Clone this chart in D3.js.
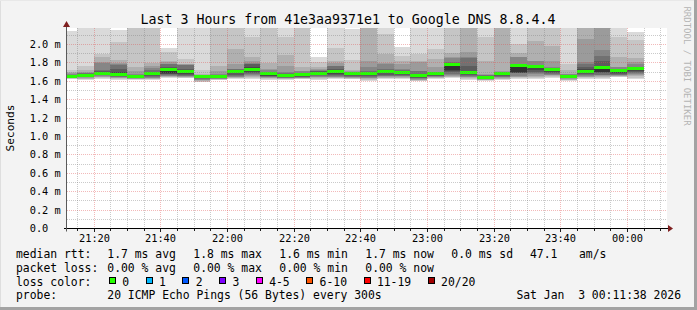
<!DOCTYPE html>
<html>
<head>
<meta charset="utf-8">
<script src="https://cdn.jsdelivr.net/npm/d3@7"></script>
<style>
  body { margin: 0; background: #f3f3f3; }
  svg text { font-family: "DejaVu Sans Mono", monospace; fill: #000; }
</style>
</head>
<body>
<svg id="chart" width="697" height="310"></svg>
<script>
// ---- data ----
const sampleTimes = ['21:15', '21:20', '21:25', '21:30', '21:35', '21:40', '21:45', '21:50', '21:55',
    '22:00', '22:05', '22:10', '22:15', '22:20', '22:25', '22:30', '22:35', '22:40', '22:45', '22:50', '22:55',
    '23:00', '23:05', '23:10', '23:15', '23:20', '23:25', '23:30', '23:35', '23:40', '23:45', '23:50', '23:55',
    '00:00', '00:05'];

// median rtt per 5 min sample (ms)
const medianRtt = [1.652, 1.656, 1.683, 1.667, 1.643, 1.677, 1.726, 1.705, 1.643, 1.643, 1.699, 1.726,
    1.674, 1.654, 1.665, 1.683, 1.703, 1.674, 1.674, 1.701, 1.687, 1.654, 1.676, 1.774, 1.692, 1.638,
    1.674, 1.761, 1.752, 1.719, 1.652, 1.703, 1.746, 1.708, 1.733];

// sorted pings below the median (cp1..cp9), ms
const smokeLow = [
    [1.617, 1.622, 1.627, 1.632, 1.636, 1.640, 1.644, 1.647, 1.650],
    [1.610, 1.618, 1.625, 1.632, 1.638, 1.643, 1.647, 1.650, 1.653],
    [1.620, 1.630, 1.638, 1.645, 1.652, 1.660, 1.666, 1.671, 1.676],
    [1.610, 1.620, 1.628, 1.635, 1.641, 1.646, 1.650, 1.654, 1.660],
    [1.608, 1.615, 1.620, 1.625, 1.629, 1.632, 1.635, 1.637, 1.639],
    [1.610, 1.617, 1.623, 1.628, 1.633, 1.640, 1.650, 1.660, 1.670],
    [1.630, 1.636, 1.642, 1.648, 1.655, 1.662, 1.670, 1.678, 1.685],
    [1.627, 1.633, 1.640, 1.645, 1.650, 1.656, 1.665, 1.675, 1.690],
    [1.583, 1.590, 1.598, 1.606, 1.613, 1.620, 1.626, 1.632, 1.638],
    [1.610, 1.614, 1.618, 1.621, 1.624, 1.627, 1.630, 1.634, 1.638],
    [1.620, 1.626, 1.632, 1.638, 1.645, 1.655, 1.668, 1.680, 1.690],
    [1.620, 1.632, 1.645, 1.655, 1.665, 1.674, 1.683, 1.695, 1.710],
    [1.613, 1.620, 1.626, 1.632, 1.638, 1.644, 1.650, 1.657, 1.665],
    [1.610, 1.615, 1.621, 1.626, 1.630, 1.634, 1.638, 1.643, 1.648],
    [1.616, 1.621, 1.626, 1.630, 1.635, 1.640, 1.645, 1.651, 1.658],
    [1.613, 1.621, 1.630, 1.638, 1.645, 1.652, 1.660, 1.668, 1.676],
    [1.620, 1.626, 1.632, 1.638, 1.645, 1.652, 1.662, 1.675, 1.690],
    [1.616, 1.621, 1.627, 1.633, 1.639, 1.645, 1.652, 1.660, 1.667],
    [1.601, 1.610, 1.619, 1.627, 1.635, 1.642, 1.650, 1.658, 1.666],
    [1.620, 1.627, 1.633, 1.640, 1.648, 1.656, 1.668, 1.680, 1.692],
    [1.620, 1.627, 1.634, 1.641, 1.648, 1.655, 1.662, 1.671, 1.680],
    [1.594, 1.600, 1.606, 1.613, 1.620, 1.627, 1.634, 1.641, 1.648],
    [1.620, 1.626, 1.632, 1.638, 1.644, 1.650, 1.656, 1.663, 1.670],
    [1.627, 1.636, 1.645, 1.655, 1.665, 1.674, 1.700, 1.710, 1.717],
    [1.610, 1.620, 1.630, 1.638, 1.646, 1.654, 1.662, 1.672, 1.683],
    [1.601, 1.606, 1.610, 1.614, 1.618, 1.622, 1.626, 1.630, 1.634],
    [1.610, 1.618, 1.625, 1.632, 1.638, 1.645, 1.652, 1.660, 1.667],
    [1.620, 1.628, 1.636, 1.645, 1.656, 1.680, 1.684, 1.688, 1.692],
    [1.620, 1.630, 1.642, 1.655, 1.670, 1.685, 1.700, 1.715, 1.735],
    [1.632, 1.641, 1.650, 1.658, 1.666, 1.675, 1.686, 1.698, 1.710],
    [1.601, 1.608, 1.614, 1.620, 1.626, 1.632, 1.637, 1.642, 1.647],
    [1.620, 1.628, 1.637, 1.645, 1.652, 1.660, 1.670, 1.682, 1.694],
    [1.620, 1.628, 1.638, 1.648, 1.658, 1.668, 1.680, 1.692, 1.700],
    [1.638, 1.644, 1.650, 1.656, 1.662, 1.668, 1.674, 1.680, 1.695],
    [1.620, 1.634, 1.648, 1.660, 1.670, 1.680, 1.692, 1.705, 1.718]
];

// sorted pings above the median (cp10..cp18), ms
const smokeHigh = [
    [1.656, 1.660, 1.664, 1.668, 1.673, 1.680, 1.695, 1.720, 2.140],
    [1.660, 1.666, 1.673, 1.680, 1.690, 1.700, 1.720, 1.760, 2.300],
    [1.690, 1.700, 1.710, 1.720, 1.790, 1.800, 1.860, 1.890, 2.400],
    [1.685, 1.700, 1.730, 1.775, 1.785, 1.790, 1.830, 2.020, 2.150],
    [1.650, 1.656, 1.662, 1.668, 1.675, 1.710, 1.750, 2.300, 2.450],
    [1.684, 1.692, 1.700, 1.720, 1.740, 1.760, 1.790, 2.350, 2.500],
    [1.735, 1.740, 1.746, 1.780, 1.783, 1.800, 1.819, 1.909, 1.957],
    [1.712, 1.718, 1.725, 1.770, 1.775, 1.780, 1.783, 1.837, 2.300],
    [1.646, 1.649, 1.652, 1.656, 1.660, 1.665, 1.674, 1.717, 2.300],
    [1.650, 1.655, 1.662, 1.668, 1.674, 1.710, 1.764, 2.300, 2.500],
    [1.704, 1.708, 1.710, 1.725, 1.728, 1.783, 1.946, 2.300, 2.500],
    [1.735, 1.746, 1.785, 1.788, 1.790, 1.819, 1.855, 2.080, 2.300],
    [1.679, 1.684, 1.688, 1.692, 1.720, 1.728, 1.790, 2.300, 2.500],
    [1.661, 1.668, 1.676, 1.685, 1.692, 1.764, 1.884, 2.080, 2.300],
    [1.670, 1.674, 1.678, 1.681, 1.705, 1.710, 1.753, 2.300, 2.500],
    [1.690, 1.697, 1.703, 1.710, 1.717, 1.730, 1.753, 1.800, 1.855],
    [1.710, 1.720, 1.728, 1.760, 1.764, 1.790, 1.812, 1.960, 2.300],
    [1.677, 1.680, 1.684, 1.688, 1.692, 1.710, 1.717, 1.826, 2.163],
    [1.680, 1.688, 1.695, 1.710, 1.746, 1.819, 2.300, 2.500, 2.600],
    [1.708, 1.716, 1.720, 1.728, 1.780, 1.790, 1.891, 2.109, 2.300],
    [1.692, 1.698, 1.704, 1.712, 1.728, 1.780, 1.812, 1.873, 1.971],
    [1.660, 1.668, 1.674, 1.705, 1.710, 1.800, 1.819, 1.891, 2.300],
    [1.680, 1.684, 1.687, 1.690, 1.692, 1.746, 1.837, 1.946, 2.300],
    [1.780, 1.785, 1.790, 1.800, 1.850, 1.855, 1.898, 2.300, 2.500],
    [1.700, 1.710, 1.764, 1.850, 1.855, 1.909, 2.300, 2.500, 2.600],
    [1.642, 1.647, 1.652, 1.658, 1.665, 1.674, 1.819, 2.072, 2.300],
    [1.678, 1.682, 1.685, 1.688, 1.692, 1.710, 2.300, 2.500, 2.600],
    [1.767, 1.772, 1.778, 1.783, 1.860, 1.862, 1.898, 2.000, 2.300],
    [1.757, 1.760, 1.762, 1.764, 1.810, 1.819, 2.036, 2.300, 2.500],
    [1.724, 1.728, 1.734, 1.740, 1.746, 1.819, 1.982, 2.300, 2.500],
    [1.656, 1.659, 1.662, 1.666, 1.670, 1.674, 1.717, 1.783, 2.300],
    [1.712, 1.728, 1.746, 1.785, 1.800, 2.054, 2.300, 2.500, 2.600],
    [1.755, 1.765, 1.810, 1.873, 1.935, 2.400, 2.600, 2.700, 2.800],
    [1.712, 1.715, 1.718, 1.722, 1.750, 1.753, 1.855, 2.072, 2.300],
    [1.740, 1.744, 1.748, 1.753, 1.783, 1.800, 1.848, 2.045, 2.127]
];

const yTickValues = [0.0, 0.2, 0.4, 0.6, 0.8, 1.0, 1.2, 1.4, 1.6, 1.8, 2.0];
const yTickLabels = ['0.0', '0.2 m', '0.4 m', '0.6 m', '0.8 m', '1.0 m', '1.2 m', '1.4 m', '1.6 m', '1.8 m', '2.0 m'];
const xTickLabels = ['21:20', '21:40', '22:00', '22:20', '22:40', '23:00', '23:20', '23:40', '00:00'];

const rttStats = ['1.7 ms avg', '1.8 ms max', '1.6 ms min', '1.7 ms now', '0.0 ms sd'];
const lossStats = ['0.00 % avg', '0.00 % max', '0.00 % min', '0.00 % now'];
const lossLegend = [
    { label: '0', color: '#26ff00' },
    { label: '1', color: '#00b8ff' },
    { label: '2', color: '#0059ff' },
    { label: '3', color: '#7e00ff' },
    { label: '4-5', color: '#ff00ff' },
    { label: '6-10', color: '#ff5500' },
    { label: '11-19', color: '#ff0000' },
    { label: '20/20', color: '#a10000' }
];
const titleText = 'Last 3 Hours from 41e3aa9371e1 to Google DNS 8.8.4.4';
const probeText = '20 ICMP Echo Pings (56 Bytes) every 300s';
const dateText = 'Sat Jan  3 00:11:38 2026';

// ---- layout ----
const plot = { left: 67, top: 28, width: 600, height: 200 };
const legendFont = 11.4;
const charW = legendFont * 0.602;
const minorGrid = 'rgba(128,128,128,0.42)';
const majorGrid = 'rgba(222,80,80,0.4)';

const parseTime = t => {
    const [h, m] = t.split(':').map(Number);
    return h < 12 ? new Date(2026, 0, 3, h, m) : new Date(2026, 0, 2, h, m);
};

const svg = d3.select('#chart');

// frame
svg.append('rect').attr('width', 697).attr('height', 310).attr('fill', '#f3f3f3');
svg.append('rect').attr('x', 694).attr('y', 0).attr('width', 3).attr('height', 310).attr('fill', '#a3a3a3');
svg.append('rect').attr('x', 0).attr('y', 307).attr('width', 697).attr('height', 3).attr('fill', '#a3a3a3');
svg.append('rect').attr('x', 0).attr('y', 0).attr('width', 1).attr('height', 307).attr('fill', '#dedede');
svg.append('rect').attr('x', 0).attr('y', 0).attr('width', 694).attr('height', 1).attr('fill', '#e8e8e8');

const xScale = d3.scaleTime()
    .domain([new Date(2026, 0, 2, 21, 12), new Date(2026, 0, 3, 0, 12)])
    .range([plot.left, plot.left + plot.width]);

const yScale = d3.scaleLinear()
    .domain([0, plot.height / 92])
    .range([plot.top + plot.height, plot.top]);

svg.append('defs').append('clipPath').attr('id', 'plotClip')
    .append('rect')
    .attr('x', plot.left).attr('y', plot.top)
    .attr('width', plot.width).attr('height', plot.height);

svg.append('rect')
    .attr('x', plot.left).attr('y', plot.top)
    .attr('width', plot.width).attr('height', plot.height)
    .attr('fill', '#ffffff');

const g = svg.append('g').attr('clip-path', 'url(#plotClip)');

// smoke: band i spans cp_i .. cp_(19-i), darker towards the median
const columns = sampleTimes.map((t, i) => {
    const end = parseTime(t);
    return {
        x0: xScale(new Date(end.getTime() - 5 * 60000)),
        x1: xScale(end),
        median: medianRtt[i],
        low: smokeLow[i],
        high: smokeHigh[i]
    };
});

columns.forEach(col => {
    for (let b = 0; b < 9; b++) {
        const shade = Math.floor(190 / 9 * (8 - b)) + 50;
        const hex = d3.format('02x')(shade);
        const yTop = yScale(col.high[8 - b]);
        const yBot = yScale(col.low[b]);
        g.append('rect')
            .attr('x', col.x0)
            .attr('y', yTop)
            .attr('width', col.x1 - col.x0)
            .attr('height', yBot - yTop)
            .attr('fill', '#' + hex + hex + hex)
            .attr('shape-rendering', 'crispEdges');
    }
});

// median: one flat bar per sample
columns.forEach(col => {
    g.append('rect')
        .attr('x', col.x0)
        .attr('y', yScale(col.median) - 1.5)
        .attr('width', col.x1 - col.x0)
        .attr('height', 3)
        .attr('fill', lossLegend[0].color)
        .attr('shape-rendering', 'crispEdges');
});

// grid on top, semi transparent
const gridG = svg.append('g').attr('shape-rendering', 'crispEdges');
const minorY = d3.range(1, 22, 2).map(d => d / 10);
minorY.forEach(v => {
    gridG.append('line')
        .attr('x1', plot.left).attr('x2', plot.left + plot.width)
        .attr('y1', Math.round(yScale(v)) + 0.5).attr('y2', Math.round(yScale(v)) + 0.5)
        .attr('stroke', minorGrid)
        .attr('stroke-dasharray', '1,1');
});
yTickValues.slice(1).forEach(v => {
    gridG.append('line')
        .attr('x1', plot.left).attr('x2', plot.left + plot.width)
        .attr('y1', Math.round(yScale(v)) + 0.5).attr('y2', Math.round(yScale(v)) + 0.5)
        .attr('stroke', majorGrid)
        .attr('stroke-dasharray', '1,1');
});

const minorX = d3.timeMinute.every(5).range(xScale.domain()[0], xScale.domain()[1])
    .filter(d => d.getMinutes() % 20 !== 0);
const majorX = d3.timeMinute.every(20).range(xScale.domain()[0], xScale.domain()[1]);

minorX.forEach(d => {
    const x = Math.round(xScale(d)) + 0.5;
    gridG.append('line')
        .attr('x1', x).attr('x2', x)
        .attr('y1', plot.top).attr('y2', plot.top + plot.height)
        .attr('stroke', minorGrid)
        .attr('stroke-dasharray', '1,1');
});
majorX.forEach(d => {
    const x = Math.round(xScale(d)) + 0.5;
    gridG.append('line')
        .attr('x1', x).attr('x2', x)
        .attr('y1', plot.top).attr('y2', plot.top + plot.height)
        .attr('stroke', majorGrid)
        .attr('stroke-dasharray', '1,1');
});

// axes
const axisY = plot.top + plot.height + 0.5;
minorX.forEach(d => {
    const x = Math.round(xScale(d)) + 0.5;
    gridG.append('line').attr('x1', x).attr('x2', x).attr('y1', axisY).attr('y2', axisY + 2).attr('stroke', '#202020');
});
majorX.forEach(d => {
    const x = Math.round(xScale(d)) + 0.5;
    gridG.append('line').attr('x1', x).attr('x2', x).attr('y1', axisY).attr('y2', axisY + 3).attr('stroke', '#202020');
});
svg.append('line')
    .attr('x1', plot.left - 3).attr('x2', plot.left + plot.width + 3)
    .attr('y1', axisY).attr('y2', axisY)
    .attr('stroke', '#000');
svg.append('line')
    .attr('x1', plot.left - 0.5).attr('x2', plot.left - 0.5)
    .attr('y1', axisY + 3).attr('y2', plot.top - 3)
    .attr('stroke', '#5a5a5a');

// arrows
svg.append('path')
    .attr('d', `M${plot.left + plot.width + 1},${axisY - 3.5}L${plot.left + plot.width + 6},${axisY}L${plot.left + plot.width + 1},${axisY + 3.5}Z`)
    .attr('fill', '#7f1f1f');
svg.append('path')
    .attr('d', `M${plot.left - 4},${plot.top - 1}L${plot.left - 0.5},${plot.top - 7}L${plot.left + 3},${plot.top - 1}Z`)
    .attr('fill', '#7f1f1f');

// tick labels
yTickValues.forEach((v, i) => {
    svg.append('text')
        .attr('x', 29.7)
        .attr('y', Math.round(yScale(v)) + 4)
        .style('font-size', '10.3px')
        .text(yTickLabels[i]);
});
majorX.forEach((d, i) => {
    svg.append('text')
        .attr('x', Math.round(xScale(d)) + 0.5)
        .attr('y', 241.5)
        .attr('text-anchor', 'middle')
        .style('font-size', '10.3px')
        .text(xTickLabels[i]);
});

// title and side labels
svg.append('text')
    .attr('x', 348).attr('y', 23.5)
    .attr('text-anchor', 'middle')
    .style('font-size', '13.25px')
    .text(titleText);

svg.append('text')
    .attr('transform', 'translate(14,128) rotate(-90)')
    .attr('text-anchor', 'middle')
    .style('font-size', '11.2px')
    .text('Seconds');

svg.append('text')
    .attr('transform', 'translate(684,66) rotate(90)')
    .attr('text-anchor', 'middle')
    .style('font-size', '9px')
    .style('fill', '#b4b4b4')
    .text('RRDTOOL / TOBI OETIKER');

// legend
const legend = svg.append('g').style('font-size', legendFont + 'px');
const rowY = [258, 272, 286, 300];
const colX = 107.3;
const colStep = 86;

legend.append('text').attr('x', 16).attr('y', rowY[0]).text('median rtt:');
rttStats.forEach((s, i) => legend.append('text').attr('x', colX + i * colStep).attr('y', rowY[0]).text(s));
legend.append('text').attr('x', 530).attr('y', rowY[0]).text('47.1');
legend.append('text').attr('x', 579).attr('y', rowY[0]).text('am/s');

legend.append('text').attr('x', 16).attr('y', rowY[1]).text('packet loss:');
lossStats.forEach((s, i) => legend.append('text').attr('x', colX + i * colStep).attr('y', rowY[1]).text(s));

legend.append('text').attr('x', 16).attr('y', rowY[2]).text('loss color:');
let boxX = 109;
lossLegend.forEach(item => {
    legend.append('rect')
        .attr('x', boxX + 0.5).attr('y', rowY[2] - 8.5)
        .attr('width', 6).attr('height', 6)
        .attr('fill', item.color)
        .attr('stroke', '#000')
        .attr('shape-rendering', 'crispEdges');
    legend.append('text').attr('x', boxX + 13.3).attr('y', rowY[2]).text(item.label);
    boxX += (item.label.length + 4.35) * charW;
});

legend.append('text').attr('x', 16).attr('y', rowY[3] - 1).text('probe:');
legend.append('text').attr('x', colX).attr('y', rowY[3] - 1).text(probeText);
legend.append('text')
    .attr('x', 681).attr('y', rowY[3] - 1)
    .attr('text-anchor', 'end')
    .attr('xml:space', 'preserve')
    .style('white-space', 'pre')
    .text(dateText);
</script>
</body>
</html>
